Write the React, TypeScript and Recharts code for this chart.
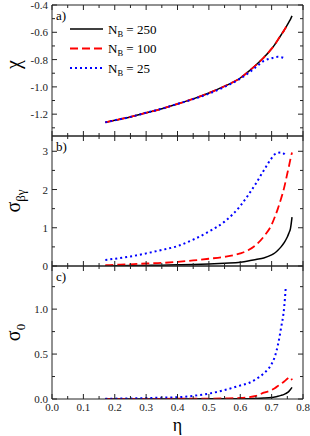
import React from "react";
import { LineChart, Line, XAxis, YAxis, Legend } from "recharts";

// packing fraction grid shared by all three panels
const etaValues = [
  0.17, 0.2, 0.25, 0.3, 0.35, 0.4, 0.45, 0.5, 0.55, 0.6, 0.625, 0.65, 0.675,
  0.7, 0.71, 0.72, 0.73, 0.74, 0.745, 0.75, 0.755, 0.76, 0.765,
];

// a) chi
const chi250 = [
  -1.26, -1.245, -1.22, -1.19, -1.16, -1.125, -1.088, -1.045, -0.995, -0.935,
  -0.89, -0.84, -0.785, -0.72, -0.69, -0.655, -0.62, -0.585, -0.565, -0.545,
  -0.525, -0.505, -0.48,
];
const chi100 = [
  -1.26, -1.245, -1.22, -1.19, -1.16, -1.125, -1.088, -1.045, -0.995, -0.935,
  -0.89, -0.84, -0.785, -0.72, -0.69, -0.655, -0.62, -0.585, -0.565, -0.545,
  null, null, null,
];
const chi25 = [
  -1.26, -1.245, -1.22, -1.19, -1.16, -1.125, -1.09, -1.05, -1.0, -0.94, -0.9,
  -0.855, -0.81, -0.79, -0.783, -0.78, -0.782, -0.79, null, null, null, null,
  null,
];

// b) sigma_beta_gamma
const sbg250 = [
  0.005, 0.007, 0.01, 0.015, 0.02, 0.03, 0.04, 0.055, 0.075, 0.1, 0.13, 0.17,
  0.21, 0.29, 0.34, 0.41, 0.5, 0.61, 0.68, 0.76, 0.86, 0.98, 1.28,
];
const sbg100 = [
  0.02, 0.03, 0.045, 0.065, 0.08, 0.11, 0.145, 0.19, 0.24, 0.33, 0.41, 0.55,
  0.77, 1.08, 1.28, 1.5, 1.76, 2.05, 2.23, 2.42, 2.6, 2.8, 2.97,
];
const sbg25 = [
  0.157, 0.19, 0.25, 0.33, 0.42, 0.52, 0.69, 0.9, 1.16, 1.57, 1.85, 2.16, 2.5,
  2.82, 2.92, 2.96, 2.97, 2.93, 2.88, null, null, null, null,
];

// c) sigma_0
const s0250 = [
  0, 0, 0, 0, 0.001, 0.001, 0.001, 0.002, 0.002, 0.003, 0.004, 0.006, 0.01,
  0.017, 0.022, 0.03, 0.04, 0.052, 0.06, 0.07, 0.085, 0.105, 0.13,
];
const s0100 = [
  0.001, 0.001, 0.001, 0.002, 0.002, 0.003, 0.003, 0.004, 0.007, 0.012, 0.02,
  0.035, 0.07, 0.1, 0.12, 0.145, 0.17, 0.195, 0.21, 0.225, 0.24, 0.24, 0.21,
];
const s025 = [
  0.003, 0.004, 0.006, 0.01, 0.015, 0.02, 0.035, 0.06, 0.1, 0.15, 0.175, 0.22,
  0.285, 0.39, 0.47, 0.6, 0.79, 1.02, 1.24, null, null, null, null,
];

const legendLabels = ["250", "100", "25"];

const xMajor = [0, 0.1, 0.2, 0.3, 0.4, 0.5, 0.6, 0.7, 0.8];
const xMinor = [0.05, 0.15, 0.25, 0.35, 0.45, 0.55, 0.65, 0.75];
const chiMajor = [-1.2, -1.0, -0.8, -0.6, -0.4];
const chiMinor = [-1.3, -1.1, -0.9, -0.7, -0.5];
const sbgMajor = [0, 1, 2, 3];
const sbgMinor = [0.5, 1.5, 2.5];
const s0Major = [0, 0.5, 1.0];
const s0Minor = [0.25, 0.75, 1.25];

const data = etaValues.map((eta, i) => ({
  eta,
  a250: chi250[i],
  a100: chi100[i],
  a25: chi25[i],
  b250: sbg250[i],
  b100: sbg100[i],
  b25: sbg25[i],
  c250: s0250[i],
  c100: s0100[i],
  c25: s025[i],
}));

const FONT = "'Liberation Serif', 'Times New Roman', serif";
const INK = "#222";

const styles = [
  { color: "#000000", dash: undefined, width: 1.5 },
  { color: "#ff0000", dash: "8 4", width: 1.8 },
  { color: "#0000ff", dash: "2 3", width: 2 },
];

const isMajor = (list: number[], v: number) =>
  list.some((m) => Math.abs(m - v) < 1e-9);

// inward ticks on all four sides, labels only on left / bottom
const makeTick =
  (side: string, majors: number[], digits: number, showLabel: boolean) =>
  (props: any) => {
    const x = Number(props.x);
    const y = Number(props.y);
    const v = props.payload.value;
    const major = isMajor(majors, v);
    const len = major ? 5 : 3;
    let x2 = x;
    let y2 = y;
    if (side === "left") x2 = x + len;
    else if (side === "right") x2 = x - len;
    else if (side === "top") y2 = y + len;
    else y2 = y - len;
    let label = null;
    if (showLabel && major && side === "left")
      label = (
        <text x={x - 4} y={y + 4} textAnchor="end" fontSize={11} fill={INK} fontFamily={FONT}>
          {v.toFixed(digits)}
        </text>
      );
    if (showLabel && major && side === "bottom")
      label = (
        <text x={x} y={y + 12} textAnchor="middle" fontSize={11} fill={INK} fontFamily={FONT}>
          {v.toFixed(digits)}
        </text>
      );
    return (
      <g>
        <line x1={x} y1={y} x2={x2} y2={y2} stroke={INK} strokeWidth={1} />
        {label}
      </g>
    );
  };

const LegendBox = () => (
  <svg width={110} height={62}>
    {styles.map((s, i) => {
      const cy = 9 + i * 19.5;
      return (
        <g key={i}>
          <line x1={2} y1={cy} x2={35} y2={cy} stroke={s.color} strokeWidth={s.width} strokeDasharray={s.dash} />
          <text x={40} y={cy + 4.5} fontSize={13} fontFamily={FONT} fill="#000">
            N
            <tspan fontSize={8.5} dy={3}>B</tspan>
            <tspan dy={-3}>{" = " + legendLabels[i]}</tspan>
          </text>
        </g>
      );
    })}
  </svg>
);

type PanelProps = {
  top: number;
  height: number;
  marginBottom: number;
  prefix: string;
  domain: [number, number];
  major: number[];
  minor: number[];
  digits: number;
  letter: string;
  title: (cx: number, cy: number) => React.ReactNode;
  showX: boolean;
  showLegend: boolean;
};

const Panel = (p: PanelProps) => {
  const xTicks = [...xMajor, ...xMinor];
  const yTicks = [...p.major, ...p.minor];
  return (
    <div style={{ position: "absolute", left: 0, top: p.top }}>
      <LineChart
        width={310}
        height={p.height}
        data={data}
        margin={{ top: 4, right: 0, bottom: p.marginBottom, left: 0 }}
      >
        <XAxis
          dataKey="eta"
          type="number"
          domain={[0, 0.8]}
          ticks={xTicks}
          interval={0}
          height={1}
          tickSize={0}
          tickMargin={0}
          axisLine={{ stroke: INK, strokeWidth: 1 }}
          tickLine={false}
          tick={makeTick("bottom", xMajor, 1, p.showX)}
          allowDataOverflow
          label={
            p.showX
              ? {
                  content: (lp: any) => {
                    const vb = lp.viewBox;
                    return (
                      <text x={vb.x + vb.width / 2} y={vb.y + 32} textAnchor="middle" fontSize={18} fontFamily={FONT} fill="#000">
                        η
                      </text>
                    );
                  },
                }
              : undefined
          }
        />
        <XAxis
          xAxisId="t"
          orientation="top"
          dataKey="eta"
          type="number"
          domain={[0, 0.8]}
          ticks={xTicks}
          interval={0}
          height={1}
          tickSize={0}
          tickMargin={0}
          axisLine={{ stroke: INK, strokeWidth: 1 }}
          tickLine={false}
          tick={makeTick("top", xMajor, 1, false)}
          allowDataOverflow
        />
        <YAxis
          type="number"
          domain={p.domain}
          ticks={yTicks}
          interval={0}
          width={52}
          tickSize={0}
          tickMargin={0}
          axisLine={{ stroke: INK, strokeWidth: 1 }}
          tickLine={false}
          tick={makeTick("left", p.major, p.digits, true)}
          allowDataOverflow
          label={{
            content: (lp: any) => {
              const vb = lp.viewBox;
              return (
                <g>
                  {p.title(20, vb.y + vb.height / 2)}
                  <text x={vb.x + vb.width + 4} y={vb.y + 15} fontSize={13} fontFamily={FONT} fill="#000">
                    {p.letter}
                  </text>
                </g>
              );
            },
          }}
        />
        <YAxis
          yAxisId="r"
          orientation="right"
          type="number"
          domain={p.domain}
          ticks={yTicks}
          interval={0}
          width={7}
          tickSize={0}
          tickMargin={0}
          axisLine={{ stroke: INK, strokeWidth: 1 }}
          tickLine={false}
          tick={makeTick("right", p.major, p.digits, false)}
          allowDataOverflow
        />
        {p.showLegend && (
          <Legend
            layout="vertical"
            align="center"
            verticalAlign="middle"
            wrapperStyle={{ position: "absolute", left: 68, top: 20, width: 110, height: 62 }}
            content={() => <LegendBox />}
          />
        )}
        {["250", "100", "25"].map((n, i) => (
          <Line
            key={n}
            dataKey={p.prefix + n}
            name={"N_B = " + n}
            type="monotone"
            stroke={styles[i].color}
            strokeWidth={styles[i].width}
            strokeDasharray={styles[i].dash}
            dot={false}
            activeDot={false}
            isAnimationActive={false}
          />
        ))}
      </LineChart>
    </div>
  );
};

const rotated = (cx: number, cy: number, main: string, sub?: string) => (
  <text
    x={cx}
    y={cy}
    transform={`rotate(-90 ${cx} ${cy})`}
    textAnchor="middle"
    fontSize={20}
    fontFamily={FONT}
    fill="#000"
  >
    {main}
    {sub && (
      <tspan fontSize={13} dy={5}>
        {sub}
      </tspan>
    )}
  </text>
);

export default function App() {
  return (
    <div style={{ position: "absolute", left: 0, top: 0, width: 310, height: 436, background: "#fff" }}>
      <Panel
        top={0}
        height={141}
        marginBottom={4}
        prefix="a"
        domain={[-1.36, -0.4]}
        major={chiMajor}
        minor={chiMinor}
        digits={1}
        letter="a)"
        title={(cx, cy) => rotated(cx, cy - 6, "χ")}
        showX={false}
        showLegend
      />
      <Panel
        top={131}
        height={140}
        marginBottom={4}
        prefix="b"
        domain={[0, 3.4]}
        major={sbgMajor}
        minor={sbgMinor}
        digits={0}
        letter="b)"
        title={(cx, cy) => rotated(cx, cy, "σ", "βγ")}
        showX={false}
        showLegend={false}
      />
      <Panel
        top={261}
        height={175}
        marginBottom={36}
        prefix="c"
        domain={[0, 1.48]}
        major={s0Major}
        minor={s0Minor}
        digits={1}
        letter="c)"
        title={(cx, cy) => rotated(cx, cy, "σ", "0")}
        showX
        showLegend={false}
      />
    </div>
  );
}
